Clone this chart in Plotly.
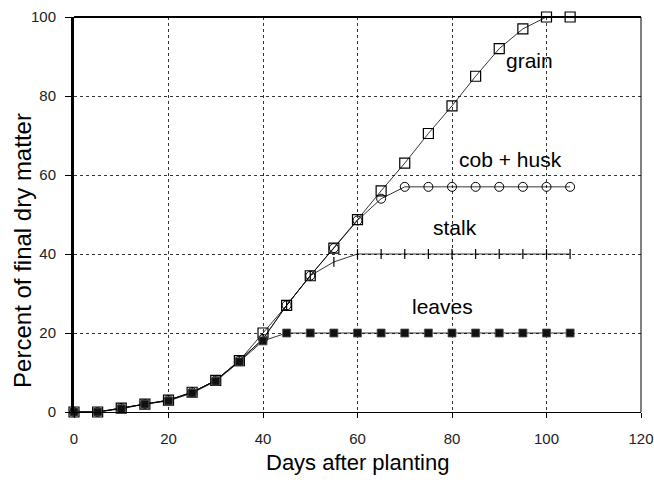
import plotly.graph_objects as go

days = [0, 5, 10, 15, 20, 25, 30, 35, 40, 45, 50, 55, 60, 65, 70, 75, 80, 85, 90, 95, 100, 105]

grain = [0, 0, 1, 2, 3, 5, 8, 13, 20, 27, 34.5, 41.5, 48.7, 56, 63, 70.5, 77.5, 85, 92, 97, 100, 100]
cob_husk = [0, 0, 1, 2, 3, 5, 8, 13, 18.5, 27, 34.5, 41.5, 48.5, 54, 57, 57, 57, 57, 57, 57, 57, 57]
stalk = [0, 0, 1, 2, 3, 5, 8, 13, 18.5, 27, 34.5, 38, 40, 40, 40, 40, 40, 40, 40, 40, 40, 40]
leaves = [0, 0, 0.8, 2, 2.8, 4.8, 7.8, 12.7, 18, 20, 20, 20, 20, 20, 20, 20, 20, 20, 20, 20, 20, 20]

x_ticks = [0, 20, 40, 60, 80, 100, 120]
y_ticks = [0, 20, 40, 60, 80, 100]

labels = ["grain", "cob + husk", "stalk", "leaves"]
label_x = [96.5, 92.3, 80.6, 77.9]
label_y = [89, 63.8, 46.6, 26.6]

FONT = "Liberation Sans, Arial, sans-serif"

fig = go.Figure()

fig.add_trace(go.Scatter(
    x=days, y=grain, mode="lines+markers",
    line=dict(color="black", width=0.8),
    marker=dict(symbol="square-open", size=10, color="black", line=dict(width=1.2)),
    cliponaxis=False, showlegend=False))
fig.add_trace(go.Scatter(
    x=days, y=cob_husk, mode="lines+markers",
    line=dict(color="black", width=0.8),
    marker=dict(symbol="circle-open", size=9, color="black", line=dict(width=1)),
    cliponaxis=False, showlegend=False))
fig.add_trace(go.Scatter(
    x=days, y=stalk, mode="lines+markers",
    line=dict(color="black", width=0.8),
    marker=dict(symbol="line-ns", size=7, color="black", line=dict(width=1.2, color="black")),
    cliponaxis=False, showlegend=False))
fig.add_trace(go.Scatter(
    x=days, y=leaves, mode="lines+markers",
    line=dict(color="black", width=0.8),
    marker=dict(symbol="square", size=8, color="#111111", line=dict(width=0.8, color="#555555")),
    cliponaxis=False, showlegend=False))

for t, lx, ly in zip(labels, label_x, label_y):
    fig.add_annotation(x=lx, y=ly, text=t, showarrow=False,
                       font=dict(size=21, color="black", family=FONT),
                       xanchor="center", yanchor="middle")

fig.add_annotation(xref="paper", yref="paper", x=-0.092, y=0.41,
                   text="Percent of final dry matter", textangle=-90, showarrow=False,
                   font=dict(size=24, color="black", family=FONT),
                   xanchor="center", yanchor="middle")
fig.add_annotation(xref="paper", yref="paper", x=0.5, y=-0.129,
                   text="Days after planting", showarrow=False,
                   font=dict(size=22, color="black", family=FONT),
                   xanchor="center", yanchor="middle")

# frame: top and right borders
fig.add_shape(type="line", xref="paper", yref="paper", x0=0, x1=1, y0=1, y1=1,
              line=dict(color="black", width=2))
fig.add_shape(type="line", xref="paper", yref="paper", x0=1, x1=1, y0=0, y1=1,
              line=dict(color="black", width=1))

fig.update_xaxes(
    range=[0, 120], tickvals=x_ticks, ticktext=[str(v) for v in x_ticks],
    showgrid=True, gridcolor="#333333", gridwidth=1, griddash="dot",
    showline=True, linecolor="black", linewidth=1,
    ticks="outside", ticklen=5, tickcolor="black",
    ticklabelstandoff=8, automargin=False,
    tickfont=dict(size=15, color="#222222", family=FONT),
    zeroline=False)
fig.update_yaxes(
    range=[0, 100], tickvals=y_ticks, ticktext=[str(v) for v in y_ticks],
    showgrid=True, gridcolor="#333333", gridwidth=1, griddash="dot",
    showline=True, linecolor="black", linewidth=3,
    ticks="outside", ticklen=6, tickcolor="black",
    ticklabelstandoff=6, automargin=False,
    tickfont=dict(size=15, color="#222222", family=FONT),
    zeroline=False)

fig.update_layout(
    width=654, height=483,
    margin=dict(l=74, r=13, t=17, b=71),
    paper_bgcolor="white", plot_bgcolor="white",
    font=dict(family=FONT, color="black"),
)

fig.write_html("out.html",
               config={"displayModeBar": False},
               post_script="document.body.style.margin='0px';document.body.style.overflow='hidden';")
